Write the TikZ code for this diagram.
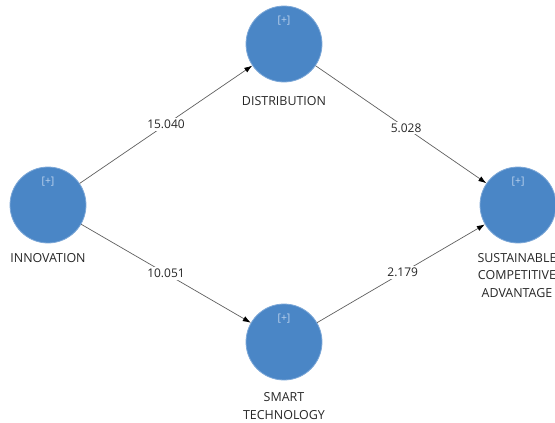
\documentclass[tikz,border=0pt]{standalone}
\usepackage{fontspec}
\setmainfont{Open Sans}
\usetikzlibrary{arrows.meta}
\definecolor{lvblue}{RGB}{74,134,198}
\definecolor{lvrim}{RGB}{125,168,216}
\definecolor{plustxt}{RGB}{188,210,237}
\definecolor{pathgray}{RGB}{95,95,95}
\newcommand{\lvsize}{76bp}
\newcommand{\plusup}{23bp}
\tikzset{
  construct/.style={circle, fill=lvblue, draw=lvrim, line width=0.8bp, minimum size=\lvsize, inner sep=0pt},
  plussign/.style={text=plustxt, font=\fontsize{10.5}{12}\selectfont, inner sep=0pt},
  lvname/.style={align=center, text=black!85, font=\fontsize{12.5}{17.5}\selectfont, inner sep=0pt},
  pathline/.style={draw=pathgray, line width=0.7bp, -{Latex[length=8bp,width=5.5bp,color=black]}},
  weight/.style={fill=white, inner sep=2bp, text=black!85, font=\fontsize{12}{13}\selectfont}
}

\begin{document}
\begin{tikzpicture}[x=1bp,y=-1bp]
\useasboundingbox (0,0) rectangle (555,422);
% constructs
\node[construct] (inno) at (48, 205) {};
\node[construct] (dist) at (284, 44) {};
\node[construct] (smart) at (284, 342) {};
\node[construct] (sca) at (518, 205) {};
\node[plussign] (inno-plus) at ([yshift=\plusup]inno.center) {[+]};
\node[plussign] (dist-plus) at ([yshift=\plusup]dist.center) {[+]};
\node[plussign] (smart-plus) at ([yshift=\plusup]smart.center) {[+]};
\node[plussign] (sca-plus) at ([yshift=\plusup]sca.center) {[+]};
% names
\node[lvname] (inno-name) at (48, 258) {INNOVATION};
\node[lvname] (dist-name) at (284, 101) {DISTRIBUTION};
\node[lvname] (smart-name) at (284, 406) {SMART\\TECHNOLOGY};
\node[lvname] (sca-name) at (517, 275.5) {SUSTAINABLE\\COMPETITIVE\\ADVANTAGE};
% paths
\draw[pathline] (inno) -- node[weight] (w1) {15.040} (dist);
\draw[pathline] (inno) -- node[weight] (w2) {10.051} (smart);
\draw[pathline] (dist) -- node[weight, pos=0.53] (w3) {5.028} (sca);
\draw[pathline] (smart) -- node[weight, pos=0.51] (w4) {2.179} (sca);
\end{tikzpicture}
\end{document}
